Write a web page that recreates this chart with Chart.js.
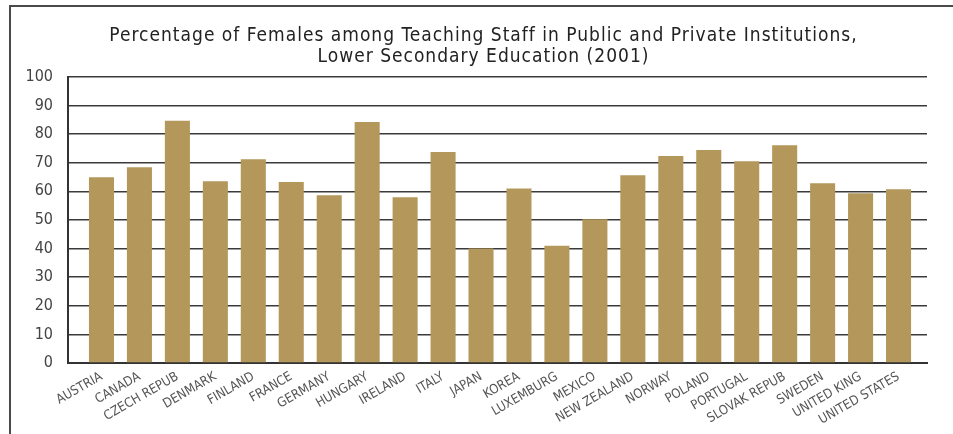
<!DOCTYPE html>
<html>
<head>
<meta charset="utf-8">
<script src="https://cdn.jsdelivr.net/npm/chart.js@4.4.0/dist/chart.umd.min.js"></script>
<style>
  html, body { margin: 0; padding: 0; background: #fff; }
  #wrap { position: relative; width: 953px; height: 434px; }
  #frame { position: absolute; left: 9px; top: 5px; right: 0; bottom: 0;
           border-left: 2px solid #4a4a4a; border-top: 2px solid #4a4a4a; pointer-events: none; }
</style>
</head>
<body>
<div id="wrap">
  <canvas id="myChart" width="953" height="434"></canvas>
  <div id="frame"></div>
</div>
<script>
const FONT = "'Liberation Sans Narrow', 'DejaVu Sans Condensed', sans-serif";

// data
const countries = ['AUSTRIA', 'CANADA', 'CZECH REPUB', 'DENMARK', 'FINLAND', 'FRANCE', 'GERMANY',
  'HUNGARY', 'IRELAND', 'ITALY', 'JAPAN', 'KOREA', 'LUXEMBURG', 'MEXICO', 'NEW ZEALAND',
  'NORWAY', 'POLAND', 'PORTUGAL', 'SLOVAK REPUB', 'SWEDEN', 'UNITED KING', 'UNITED STATES'];
const femalePct = [64.9, 68.4, 84.6, 63.5, 71.2, 63.2, 58.6, 84.2, 57.9, 73.7, 40.0,
  61.0, 41.0, 50.2, 65.6, 72.3, 74.4, 70.5, 76.1, 62.8, 59.3, 60.7];
const yTicks = [0, 10, 20, 30, 40, 50, 60, 70, 80, 90, 100];

const titleLines = ['Percentage of Females among Teaching Staff in Public and Private Institutions,',
  'Lower Secondary Education (2001)'];

// the title in the original is tracked a little; tick labels are drawn later (z: 1) without it
const titleSpacing = {
  id: 'titleSpacing',
  beforeDraw: (chart) => { chart.ctx.letterSpacing = '1px'; },
  beforeDatasetsDraw: (chart) => { chart.ctx.letterSpacing = '0px'; }
};

const ctx = document.getElementById('myChart');
const myChart = new Chart(ctx, {
  type: 'bar',
  data: {
    datasets: [{
      data: femalePct.map((v, i) => ({ x: i, y: v })),
      backgroundColor: '#b4975a',
      borderWidth: 0,
      barPercentage: 0.66,
      categoryPercentage: 1
    }]
  },
  plugins: [titleSpacing],
  options: {
    responsive: false,
    animation: false,
    layout: { padding: { left: 14, right: 0, top: 0, bottom: 0 } },
    plugins: {
      legend: { display: false },
      tooltip: { enabled: false },
      title: {
        display: true,
        text: titleLines,
        color: '#222',
        font: { family: FONT, size: 19, weight: 'normal', lineHeight: 1.1 },
        padding: { top: 26, bottom: 9 }
      }
    },
    scales: {
      x: {
        type: 'linear',
        offset: false,
        min: -0.882,
        max: 21.75,
        afterBuildTicks: (scale) => {
          scale.ticks = countries.map((c, i) => ({ value: i }));
        },
        afterFit: (scale) => { scale.height = 71; },
        grid: { display: false, drawTicks: false },
        border: { display: true, color: '#333', width: 2 },
        ticks: {
          z: 1,
          autoSkip: false,
          minRotation: 30,
          maxRotation: 30,
          padding: 6,
          color: '#555',
          font: { family: FONT, size: 13 },
          callback: (value) => countries[value]
        }
      },
      y: {
        min: 0,
        max: 100,
        afterBuildTicks: (scale) => {
          scale.ticks = yTicks.map(v => ({ value: v }));
        },
        afterFit: (scale) => { scale.width = 54; },
        grid: { color: '#3a3a3a', lineWidth: 1.5, drawTicks: false },
        border: { display: true, color: '#333', width: 2 },
        ticks: {
          z: 1,
          padding: 15,
          color: '#444',
          font: { family: FONT, size: 16 }
        }
      },
      // empty right margin so the title centres like the original
      yRight: {
        position: 'right',
        min: 0,
        max: 100,
        afterFit: (scale) => { scale.width = 26; },
        grid: { display: false, drawTicks: false },
        border: { display: false },
        ticks: { display: false }
      }
    }
  }
});
</script>
</body>
</html>
